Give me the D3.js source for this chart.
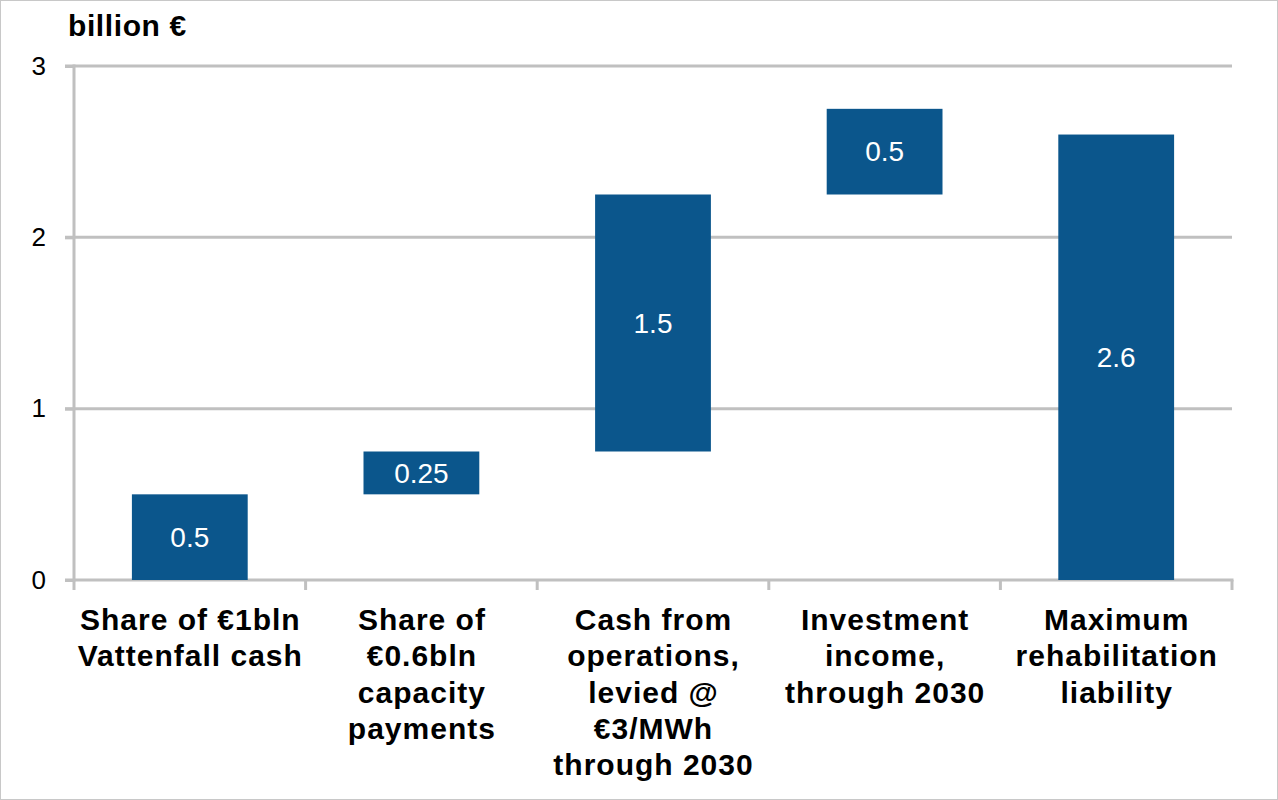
<!DOCTYPE html>
<html>
<head>
<meta charset="utf-8">
<script src="https://cdn.jsdelivr.net/npm/d3@7"></script>
<style>
  body { margin: 0; background: #fff; }
  svg { display: block; font-family: "Liberation Sans", Arial, sans-serif; }
</style>
</head>
<body>
<script>
var categories = [
  ["Share of €1bln", "Vattenfall cash"],
  ["Share of", "€0.6bln", "capacity", "payments"],
  ["Cash from", "operations,", "levied @", "€3/MWh", "through 2030"],
  ["Investment", "income,", "through 2030"],
  ["Maximum", "rehabilitation", "liability"]
];
var barStart = [0, 0.5, 0.75, 2.25, 0];
var barEnd   = [0.5, 0.75, 2.25, 2.75, 2.6];
var barLabels = ["0.5", "0.25", "1.5", "0.5", "2.6"];
var yTicks = [0, 1, 2, 3];

var w = 1278,
    h = 800;
var plotLeft = 74, plotRight = 1232, plotTop = 66, plotBottom = 580;

var svg = d3.select("body")
  .append("svg")
  .attr("width", w)
  .attr("height", h);

// outer frame
svg.append("rect")
  .attr("x", 0.5).attr("y", 0.5)
  .attr("width", w - 1).attr("height", h - 1)
  .attr("fill", "none")
  .attr("stroke", "#c8c8c8")
  .attr("stroke-width", 1);

var idx = d3.range(categories.length);

var xScale = d3.scaleBand()
  .domain(idx)
  .range([plotLeft, plotRight])
  .paddingInner(0.5)
  .paddingOuter(0.25);

var xEdge = d3.scaleLinear()
  .domain([0, categories.length])
  .range([plotLeft, plotRight]);

var yScale = d3.scaleLinear()
  .domain([0, 3])
  .range([plotBottom, plotTop]);

var grey = "#c0c0c0";

// gridlines
svg.append("g")
  .selectAll("line")
  .data(yTicks.filter(function(d) { return d > 0; }))
  .enter()
  .append("line")
  .attr("x1", plotLeft - 9)
  .attr("x2", plotRight)
  .attr("y1", function(d) { return yScale(d); })
  .attr("y2", function(d) { return yScale(d); })
  .attr("stroke", grey)
  .attr("stroke-width", 3);

// y axis
var yAxis = d3.axisLeft()
  .scale(yScale)
  .tickValues(yTicks)
  .tickSize(9)
  .tickPadding(19)
  .tickFormat(d3.format("d"));

var gy = svg.append("g")
  .attr("transform", "translate(" + plotLeft + ",0)")
  .call(yAxis);
gy.select(".domain").remove();
gy.selectAll(".tick line").attr("stroke", grey).attr("stroke-width", 3);
gy.selectAll(".tick text")
  .attr("font-size", "26px")
  .attr("fill", "#000")
  .attr("font-family", "Liberation Sans, Arial, sans-serif");
gy.append("line")
  .attr("x1", 0).attr("x2", 0)
  .attr("y1", plotTop - 1.5).attr("y2", plotBottom + 1.5)
  .attr("stroke", grey).attr("stroke-width", 3);

// x axis line and tick marks at category edges
svg.append("line")
  .attr("x1", plotLeft - 9).attr("x2", plotRight + 1.5)
  .attr("y1", plotBottom).attr("y2", plotBottom)
  .attr("stroke", grey).attr("stroke-width", 3);

svg.append("g")
  .selectAll("line")
  .data(d3.range(categories.length + 1))
  .enter()
  .append("line")
  .attr("x1", function(d) { return xEdge(d); })
  .attr("x2", function(d) { return xEdge(d); })
  .attr("y1", plotBottom)
  .attr("y2", plotBottom + 10)
  .attr("stroke", grey)
  .attr("stroke-width", 3);

// bars
svg.append("g")
  .selectAll("rect")
  .data(idx)
  .enter()
  .append("rect")
  .attr("x", function(i) { return xScale(i); })
  .attr("width", xScale.bandwidth())
  .attr("y", function(i) { return yScale(barEnd[i]); })
  .attr("height", function(i) { return yScale(barStart[i]) - yScale(barEnd[i]); })
  .attr("fill", "#0b568c");

// bar labels
svg.append("g")
  .selectAll("text")
  .data(idx)
  .enter()
  .append("text")
  .attr("x", function(i) { return xScale(i) + xScale.bandwidth() / 2; })
  .attr("y", function(i) { return (yScale(barStart[i]) + yScale(barEnd[i])) / 2; })
  .attr("dy", "0.35em")
  .attr("text-anchor", "middle")
  .attr("font-size", "28px")
  .attr("fill", "#fff")
  .text(function(i) { return barLabels[i]; });

// category labels
var cat = svg.append("g")
  .selectAll("text")
  .data(idx)
  .enter()
  .append("text")
  .attr("text-anchor", "middle")
  .attr("font-size", "30px")
  .attr("font-weight", "bold")
  .attr("letter-spacing", "1px")
  .attr("fill", "#000");

cat.selectAll("tspan")
  .data(function(i) { return categories[i].map(function(t) { return { i: i, t: t }; }); })
  .enter()
  .append("tspan")
  .attr("x", function(d) { return xScale(d.i) + xScale.bandwidth() / 2 + 0.5; })
  .attr("y", function(d, j) { return 630 + j * 36.3; })
  .text(function(d) { return d.t; });

// unit label
svg.append("text")
  .attr("x", 68)
  .attr("y", 36)
  .attr("font-size", "30px")
  .attr("font-weight", "bold")
  .attr("letter-spacing", "0.6px")
  .attr("fill", "#000")
  .text("billion €");
</script>
</body>
</html>
